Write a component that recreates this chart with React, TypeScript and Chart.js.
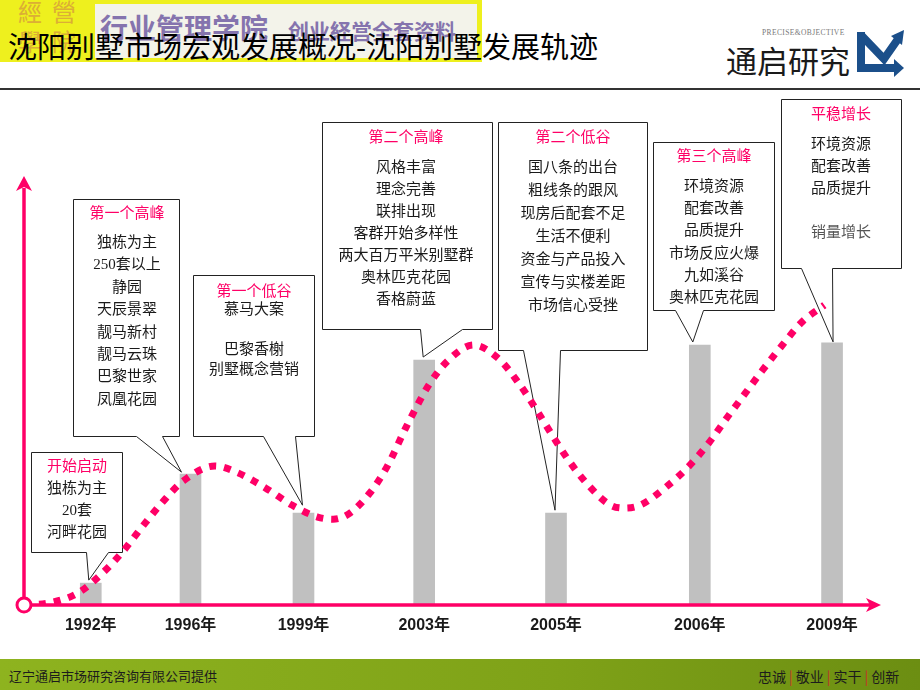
import React, { useEffect, useRef } from 'react';
import { Chart, registerables } from 'chart.js';

Chart.register(...registerables);

// ---------- data ----------
const yearLabels = ['1992年', '1996年', '1999年', '2003年', '2005年', '2006年', '2009年'];
// position of each year along the (non-linear) time axis, 0-100
const yearSlots = [7.8, 19.45, 32.65, 46.75, 62.15, 78.95, 94.4];
const barValues = [5.1, 30.5, 21.4, 57.1, 21.4, 60.6, 61.1];

// trend curve (x on time axis 0-100, y 0-100)
const trendX = [0, 3.0, 6.3, 9.2, 11.6, 13.8, 16.1, 18.6, 22.3, 25.0, 28.2, 31.3, 34.3, 36.1, 37.9, 40.4, 42.4, 44.7, 47.3, 49.5, 52.5, 55.5, 57.8, 59.8, 61.7, 63.6, 65.8, 68.5, 70.2, 72.0, 75.0, 77.6, 79.9, 82.1, 84.2, 86.3, 88.6, 90.9, 93.5];
const trendY = [0, 0.5, 2.8, 7.5, 12.6, 18.2, 23.8, 28.9, 32.4, 30.8, 27.3, 23.3, 20.5, 20.0, 21.2, 26.1, 32.2, 41.7, 51.3, 56.9, 60.6, 57.3, 51.7, 45.7, 39.6, 33.8, 28.2, 23.3, 22.6, 23.3, 27.5, 32.2, 37.5, 43.6, 49.2, 54.8, 60.6, 66.0, 69.9];

const noteTitles = ['开始启动', '第一个高峰', '第一个低谷', '第二个高峰', '第二个低谷', '第三个高峰', '平稳增长'];
const noteLines = [
  ['独栋为主', '20套', '河畔花园'],
  ['独栋为主', '250套以上', '静园', '天辰景翠', '靓马新村', '靓马云珠', '巴黎世家', '凤凰花园'],
  ['慕马大案', '', '巴黎香榭', '别墅概念营销'],
  ['风格丰富', '理念完善', '联排出现', '客群开始多样性', '两大百万平米别墅群', '奥林匹克花园', '香格蔚蓝'],
  ['国八条的出台', '粗线条的跟风', '现房后配套不足', '生活不便利', '资金与产品投入', '宣传与实楼差距', '市场信心受挫'],
  ['环境资源', '配套改善', '品质提升', '市场反应火爆', '九如溪谷', '奥林匹克花园'],
  ['环境资源', '配套改善', '品质提升', '', '销量增长'],
];
const noteBar = [0, 1, 2, 3, 4, 5, 6];

// ---------- layout / style ----------
const PINK = '#ff0066';
const noteLayout = [
  { x0: 31, y0: 452, x1: 122, y1: 552, tl: 86, tr: 108, dx: -2, gap: 3, cx: 77, titleY: 467, firstY: 489, step: 22 },
  { x0: 73, y0: 199, x1: 179, y1: 436, tl: 136, tr: 162, dx: -9, gap: 2, cx: 127, titleY: 214, firstY: 243, step: 22.4 },
  { x0: 193, y0: 275, x1: 314, y1: 436, tl: 263, tr: 295, dx: -1, gap: 8, cx: 254, titleY: 292, firstY: 310, step: 20 },
  { x0: 322, y0: 122, x1: 492, y1: 329, tl: 420, tr: 462, dx: -1, gap: 3, cx: 406, titleY: 138, firstY: 168, step: 22 },
  { x0: 498, y0: 122, x1: 647, y1: 350, tl: 523, tr: 560, dx: -1, gap: 3, cx: 573, titleY: 138, firstY: 168, step: 23 },
  { x0: 653, y0: 142, x1: 774, y1: 310, tl: 675, tr: 703, dx: -7, gap: 3, cx: 714, titleY: 157, firstY: 187, step: 22.2 },
  { x0: 781, y0: 99, x1: 901, y1: 268, tl: 801, tr: 832, dx: 1, gap: 1, cx: 841, titleY: 115, firstY: 145, step: 22 },
];
const NOTE_FONT = '15px "Liberation Serif", "Noto Sans CJK SC", serif';
const CJK = '"Noto Sans CJK SC", "Noto Sans", sans-serif';

const decorPlugin = {
  id: 'decor',
  beforeDatasetsDraw(chart: any) {
    const ctx = chart.ctx;
    const xs = chart.scales.x;
    const ys = chart.scales.y;
    ctx.save();
    noteLayout.forEach((L, i) => {
      const b = noteBar[i];
      const tipX = xs.getPixelForValue(yearSlots[b]) + L.dx;
      const tipY = ys.getPixelForValue(barValues[b]) - L.gap;
      ctx.beginPath();
      ctx.moveTo(L.x0 + 0.5, L.y0 + 0.5);
      ctx.lineTo(L.x1 + 0.5, L.y0 + 0.5);
      ctx.lineTo(L.x1 + 0.5, L.y1 + 0.5);
      ctx.lineTo(L.tr + 0.5, L.y1 + 0.5);
      ctx.lineTo(tipX, tipY);
      ctx.lineTo(L.tl + 0.5, L.y1 + 0.5);
      ctx.lineTo(L.x0 + 0.5, L.y1 + 0.5);
      ctx.closePath();
      ctx.fillStyle = '#ffffff';
      ctx.fill();
      ctx.strokeStyle = '#222222';
      ctx.lineWidth = 1;
      ctx.stroke();

      ctx.font = NOTE_FONT;
      ctx.textAlign = 'center';
      ctx.textBaseline = 'middle';
      ctx.fillStyle = PINK;
      ctx.fillText(noteTitles[i], L.cx, L.titleY);
      noteLines[i].forEach((t, j) => {
        if (!t) return;
        ctx.fillStyle = i === 6 && j === 4 ? '#555555' : '#1a1a1a';
        ctx.fillText(t, L.cx, L.firstY + j * L.step);
      });
    });
    ctx.restore();
  },
  afterDatasetsDraw(chart: any) {
    const ctx = chart.ctx;
    const a = chart.chartArea;
    const xs = chart.scales.x;
    const ox = a.left;
    const oy = a.bottom;
    ctx.save();
    ctx.strokeStyle = PINK;
    ctx.fillStyle = PINK;
    ctx.lineWidth = 3.5;
    // horizontal axis
    ctx.beginPath();
    ctx.moveTo(ox, oy);
    ctx.lineTo(a.right - 10, oy);
    ctx.stroke();
    ctx.beginPath();
    ctx.moveTo(a.right + 1, oy);
    ctx.lineTo(a.right - 14, oy - 7);
    ctx.lineTo(a.right - 10, oy);
    ctx.lineTo(a.right - 14, oy + 7);
    ctx.closePath();
    ctx.fill();
    // vertical axis
    ctx.beginPath();
    ctx.moveTo(ox, oy);
    ctx.lineTo(ox, a.top + 12);
    ctx.stroke();
    ctx.beginPath();
    ctx.moveTo(ox, a.top);
    ctx.lineTo(ox - 8, a.top + 15);
    ctx.lineTo(ox, a.top + 11);
    ctx.lineTo(ox + 8, a.top + 15);
    ctx.closePath();
    ctx.fill();
    // origin circle
    ctx.beginPath();
    ctx.arc(ox, oy, 7, 0, Math.PI * 2);
    ctx.fillStyle = '#ffffff';
    ctx.fill();
    ctx.lineWidth = 3;
    ctx.stroke();
    // year labels
    ctx.font = 'bold 16px "Liberation Sans", ' + CJK;
    ctx.fillStyle = '#1a1a1a';
    ctx.textAlign = 'center';
    ctx.textBaseline = 'middle';
    yearLabels.forEach((t, i) => {
      ctx.fillText(t, xs.getPixelForValue(yearSlots[i]), oy + 21);
    });
    ctx.restore();
  },
};

export default function App() {
  const ref = useRef<HTMLCanvasElement | null>(null);

  useEffect(() => {
    if (!ref.current) return;
    const chart = new Chart(ref.current, {
      type: 'bar',
      data: {
        datasets: [
          {
            type: 'line',
            data: trendX.map((x, i) => ({ x, y: trendY[i] })),
            borderColor: PINK,
            borderWidth: 7,
            borderDash: [7, 8],
            borderCapStyle: 'butt',
            pointRadius: 0,
            cubicInterpolationMode: 'monotone',
            fill: false,
            order: 0,
          } as any,
          {
            type: 'bar',
            data: yearSlots.map((x, i) => ({ x, y: barValues[i] })),
            backgroundColor: '#c0c0c0',
            barThickness: 21,
            order: 1,
          } as any,
        ],
      },
      options: {
        animation: false,
        responsive: false,
        maintainAspectRatio: false,
        layout: { padding: { left: 24, right: 40, top: 176, bottom: 85 } },
        scales: {
          x: { type: 'linear', min: 0, max: 100, display: false, offset: false },
          y: { min: 0, max: 100, display: false },
        },
        plugins: { legend: { display: false }, tooltip: { enabled: false } },
      } as any,
      plugins: [decorPlugin],
    });
    return () => chart.destroy();
  }, []);

  const abs = (s: React.CSSProperties): React.CSSProperties => ({ position: 'absolute', ...s });

  return (
    <div style={{ position: 'absolute', left: 0, top: 0, width: 920, height: 690, overflow: 'hidden', background: '#ffffff', fontFamily: CJK }}>
      {/* banner */}
      <div style={abs({ left: 0, top: 0, width: 482, height: 62, background: '#eef01e' })} />
      <div style={abs({ left: 95, top: 4, width: 382, height: 54, background: '#f3f3ea' })} />
      <div style={abs({ left: 18, top: -2, fontSize: 24, color: '#d9a33a', letterSpacing: 10, lineHeight: '26px', fontFamily: CJK, opacity: 0.85 })}>經營</div>
      <div style={abs({ left: 18, top: 28, fontSize: 24, color: '#d9a33a', letterSpacing: 10, lineHeight: '26px', fontFamily: CJK, opacity: 0.85 })}>學院</div>
      <div style={abs({ left: 100, top: 10, fontSize: 28, fontWeight: 'bold', color: '#6a55a0', lineHeight: '34px', fontFamily: CJK, opacity: 0.8 })}>行业管理学院</div>
      <div style={abs({ left: 288, top: 17, fontSize: 21, fontWeight: 'bold', color: '#6a55a0', lineHeight: '26px', fontFamily: CJK, opacity: 0.8 })}>创业経営全套资料</div>
      {/* title */}
      <div style={abs({ left: 8, top: 28, fontSize: 29, color: '#000000', lineHeight: '34px', whiteSpace: 'nowrap', fontFamily: CJK })}>
        沈阳别墅市场宏观发展概况-沈阳别墅发展轨迹
      </div>
      {/* logo */}
      <div style={abs({ left: 762, top: 28, fontSize: 7.5, color: '#777777', lineHeight: '10px', fontFamily: '"Liberation Serif", serif', letterSpacing: 0.4 })}>PRECISE&amp;OBJECTIVE</div>
      <div style={abs({ left: 726, top: 42, fontSize: 31, color: '#1a1a1a', lineHeight: '36px', fontFamily: CJK, whiteSpace: 'nowrap' })}>通启研究</div>
      <svg style={abs({ left: 855, top: 28 })} width={52} height={50}>
        <rect x={2} y={4} width={8} height={34} fill="#1b4f8a" />
        <polyline points="6,7 29,31 43,11" fill="none" stroke="#1b4f8a" strokeWidth={8} />
        <polygon points="49,2 36,8 47,17" fill="#1b4f8a" />
        <rect x={2} y={36} width={39} height={8} fill="#1b4f8a" />
        <polygon points="39,31 49,40 39,49" fill="#1b4f8a" />
      </svg>
      {/* rule */}
      <div style={abs({ left: 0, top: 88, width: 920, height: 2, background: '#333333' })} />
      {/* chart */}
      <canvas ref={ref} width={920} height={690} style={abs({ left: 0, top: 0, width: 920, height: 690 })} />
      {/* footer */}
      <div style={abs({ left: 0, top: 659, width: 920, height: 31, background: 'linear-gradient(to right, #8eb31f, #7fa218 60%, #6c8e12)' })} />
      <div style={abs({ left: 9, top: 667, fontSize: 13, color: '#1c1c1c', lineHeight: '18px', fontFamily: CJK, whiteSpace: 'nowrap' })}>辽宁通启市场研究咨询有限公司提供</div>
      <div style={abs({ left: 758, top: 666, fontSize: 14, color: '#1c1c1c', lineHeight: '20px', fontFamily: CJK, whiteSpace: 'nowrap' })}>
        忠诚<span style={{ color: '#c8302a', margin: '0 3px' }}>|</span>敬业<span style={{ color: '#c8302a', margin: '0 3px' }}>|</span>实干<span style={{ color: '#c8302a', margin: '0 3px' }}>|</span>创新
      </div>
    </div>
  );
}
